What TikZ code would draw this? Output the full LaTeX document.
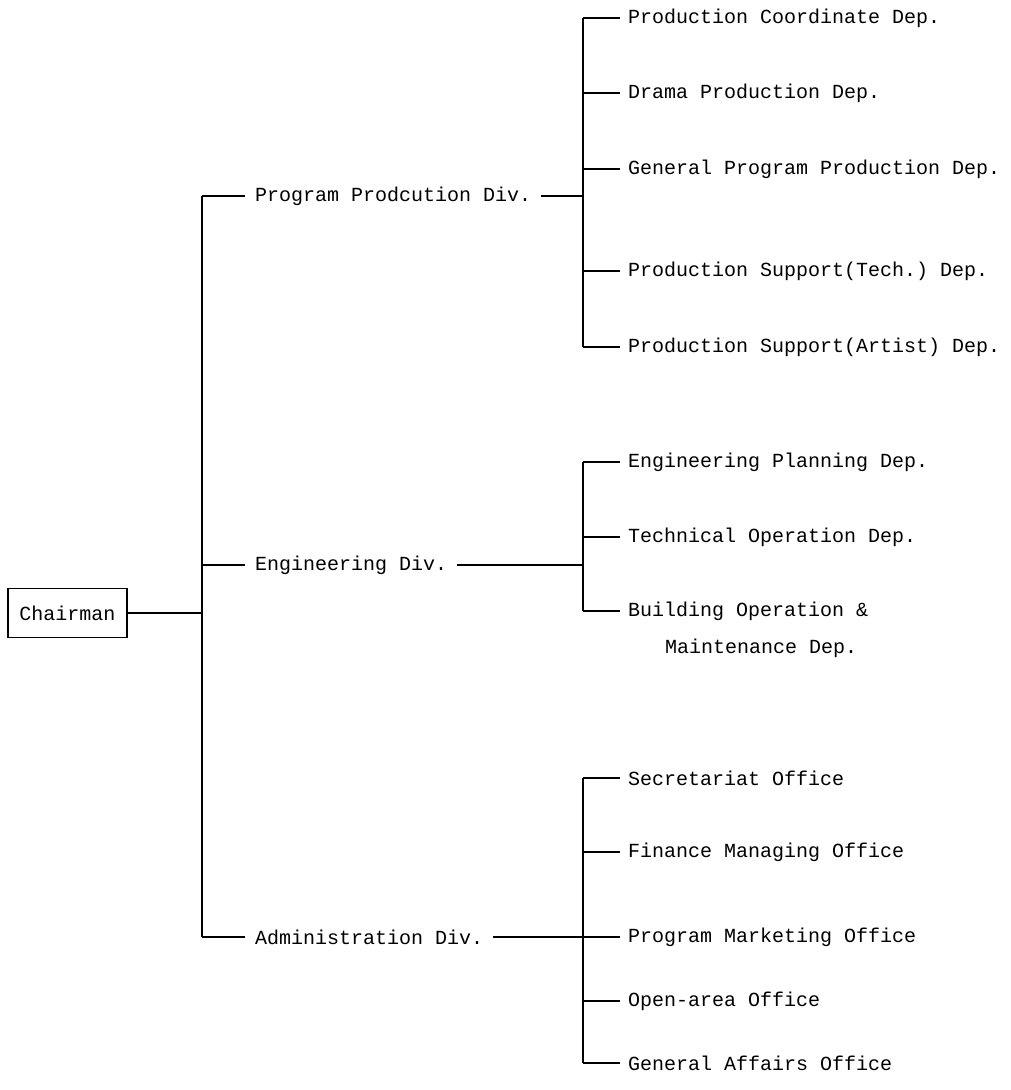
\documentclass[tikz,border=0pt]{standalone}
\usepackage{fontspec}
\setmonofont{Liberation Mono}
\begin{document}
\begin{tikzpicture}[x=1pt,y=-1pt,
  txt/.style={font=\ttfamily\fontsize{20}{22}\selectfont},
  divlbl/.style={txt, anchor=west, inner xsep=10pt, inner ysep=0pt},
  deplbl/.style={txt, anchor=west, inner xsep=8pt, inner ysep=0pt},
  trunk/.style={line width=2pt},
  stub/.style={line width=1.2pt}]
\useasboundingbox[fill=white] (0,0) rectangle (1010,1090);

% Chairman
\node[txt, draw, line width=1.4pt, minimum width=119pt, minimum height=49pt, inner sep=0pt] (chair) at (67.5,613) {Chairman};

% main trunk
\coordinate (mt) at (202,196);
\coordinate (mc) at (202,613);
\coordinate (mb) at (202,937);
\draw[trunk] (mt) -- (mb);
\draw[stub] (chair.east) -- (mc);

% divisions
\node[divlbl] (pp) at (245,196) {Program Prodcution Div.};
\coordinate (me) at (202,565);
\node[divlbl] (en) at (245,565) {Engineering Div.};
\node[divlbl] (ad) at (245,937) {Administration Div.};
\draw[stub] (mt) -- (pp.west);
\draw[stub] (me) -- (en.west);
\draw[stub] (mb) -- (ad.west);

% program production sub-trunk
\coordinate (pt) at (583,18);
\coordinate (pc) at (583,196);
\coordinate (pb) at (583,347);
\draw[trunk] (pt) -- (pb);
\draw[stub] (pp.east) -- (pc);
\node[deplbl] (p1) at (620,18) {Production Coordinate Dep.};
\node[deplbl] (p2) at (620,93) {Drama Production Dep.};
\node[deplbl] (p3) at (620,169) {General Program Production Dep.};
\node[deplbl] (p4) at (620,271) {Production Support(Tech.) Dep.};
\node[deplbl] (p5) at (620,347) {Production Support(Artist) Dep.};
\coordinate (pj2) at (583,93);
\coordinate (pj3) at (583,169);
\coordinate (pj4) at (583,271);
\draw[stub] (pt) -- (p1.west);
\draw[stub] (pj2) -- (p2.west);
\draw[stub] (pj3) -- (p3.west);
\draw[stub] (pj4) -- (p4.west);
\draw[stub] (pb) -- (p5.west);

% engineering sub-trunk
\coordinate (et) at (583,462);
\coordinate (ec) at (583,565);
\coordinate (eb) at (583,611);
\draw[trunk] (et) -- (eb);
\draw[stub] (en.east) -- (ec);
\node[deplbl] (e1) at (620,462) {Engineering Planning Dep.};
\node[deplbl] (e2) at (620,537) {Technical Operation Dep.};
\node[deplbl] (e3) at (620,611) {Building Operation \&};
\node[txt, anchor=west, inner sep=0pt] (e3b) at (665,648) {Maintenance Dep.};
\coordinate (ej2) at (583,537);
\draw[stub] (et) -- (e1.west);
\draw[stub] (ej2) -- (e2.west);
\draw[stub] (eb) -- (e3.west);

% administration sub-trunk
\coordinate (at) at (583,778);
\coordinate (ac) at (583,937);
\coordinate (ab) at (583,1063);
\draw[trunk] (at) -- (ab);
\draw[stub] (ad.east) -- (ac);
\node[deplbl] (a1) at (620,778) {Secretariat Office};
\node[deplbl] (a2) at (620,852) {Finance Managing Office};
\node[deplbl] (a3) at (620,937) {Program Marketing Office};
\node[deplbl] (a4) at (620,1001) {Open-area Office};
\node[deplbl] (a5) at (620,1063) {General Affairs Office};
\coordinate (aj2) at (583,852);
\coordinate (aj4) at (583,1001);
\draw[stub] (at) -- (a1.west);
\draw[stub] (aj2) -- (a2.west);
\draw[stub] (ac) -- (a3.west);
\draw[stub] (aj4) -- (a4.west);
\draw[stub] (ab) -- (a5.west);
\end{tikzpicture}
\end{document}
